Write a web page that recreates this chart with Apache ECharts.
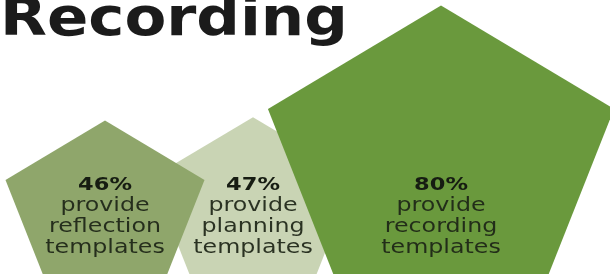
<!DOCTYPE html>
<html>
<head>
<meta charset="utf-8">
<script src="https://cdn.jsdelivr.net/npm/echarts@6/dist/echarts.min.js"></script>
<style>
  html, body { margin: 0; padding: 0; background: #fff; }
  #chart { width: 610px; height: 274px; }
</style>
</head>
<body>
<div id="chart"></div>
<script>
// data
const categories = ['reflection', 'planning', 'recording'];
const values = [46, 47, 80];
const valueLabels = ['46%', '47%', '80%'];

// layout (pixels, y measured from the bottom)
const centerX = [105, 253, 441];
const baseY = -2;
const textY = 57;
const heightPerPoint = 3.38;
const widthRatio = 1.28;
const fillColors = ['#8fa66b', '#c9d4b4', '#6a993d'];
const drawOrder = [10, 0, 10];

const chart = echarts.init(document.getElementById('chart'), null, { renderer: 'canvas' });

const option = {
    animation: false,
    backgroundColor: '#fff',
    grid: { left: 0, right: 0, top: 0, bottom: 0 },
    xAxis: { type: 'value', min: 0, max: 610, show: false },
    yAxis: { type: 'value', min: 0, max: 274, show: false },
    graphic: [{
        type: 'text',
        x: 0,
        y: 21,
        scaleX: 1.15,
        style: {
            text: 'Recording',
            font: 'bold 53px "DejaVu Sans"',
            fill: '#1b1b1b',
            verticalAlign: 'middle'
        }
    }],
    series: [{
        type: 'custom',
        data: centerX.map((x, i) => [x, values[i]]),
        renderItem: function (params, api) {
            const i = params.dataIndex;
            const x = api.value(0);
            const v = api.value(1);
            const base = api.coord([x, baseY]);
            const top = api.coord([x, baseY + v * heightPerPoint]);
            const h = base[1] - top[1];
            const w = h * widthRatio;
            const cx = base[0];
            const ty = top[1];
            const pts = [
                [cx, ty],
                [cx + 0.5 * w, ty + 0.382 * h],
                [cx + 0.309 * w, ty + h],
                [cx - 0.309 * w, ty + h],
                [cx - 0.5 * w, ty + 0.382 * h]
            ];
            const tp = api.coord([x, textY]);
            return {
                type: 'group',
                children: [{
                    type: 'polygon',
                    z2: drawOrder[i],
                    shape: { points: pts },
                    style: { fill: fillColors[i] }
                }, {
                    type: 'text',
                    z2: 30,
                    x: tp[0],
                    y: tp[1],
                    scaleX: 1.25,
                    style: {
                        text: '{p|' + valueLabels[i] + '}\n{t|provide}\n{t|' + categories[i] + '}\n{t|templates}',
                        align: 'center',
                        verticalAlign: 'middle',
                        rich: {
                            p: { font: 'bold 18px "DejaVu Sans"', fill: '#161c12', lineHeight: 21 },
                            t: { font: '19px "DejaVu Sans"', fill: 'rgba(28,36,22,0.92)', lineHeight: 21 }
                        }
                    }
                }]
            };
        }
    }]
};

chart.setOption(option);
</script>
</body>
</html>
